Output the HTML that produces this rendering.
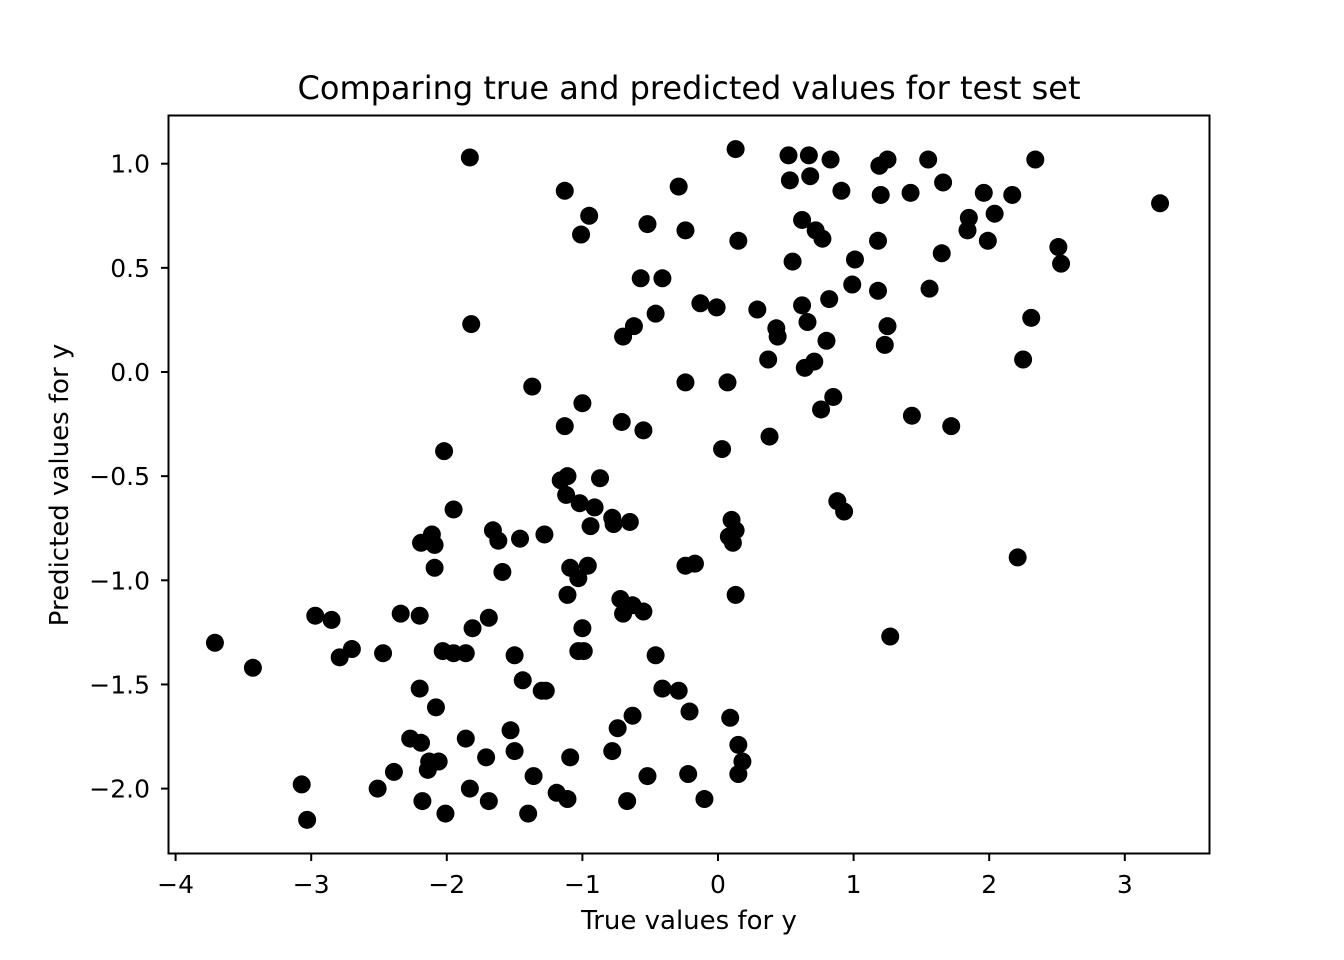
<!DOCTYPE html>
<html><head><meta charset="utf-8"><style>
html,body{margin:0;padding:0;background:#fff;}
svg{display:block;font-family:"DejaVu Sans","Liberation Sans",sans-serif;}
</style></head><body>
<svg id="chart" width="1344" height="960">
<rect x="0" y="0" width="1344" height="960" fill="#fff"/>
<text x="689" y="99" font-size="32" text-anchor="middle">Comparing true and predicted values for test set</text>
<g id="points"></g>
<g id="xticks"></g>
<g id="yticks"></g>
<rect x="168.5" y="115.5" width="1041" height="738" fill="none" stroke="#000" stroke-width="2"/>
<text x="689" y="929" font-size="26" text-anchor="middle">True values for y</text>
<text transform="translate(68,485) rotate(-90)" font-size="26" text-anchor="middle">Predicted values for y</text>
</svg>
<script>
const xTicks=[-4,-3,-2,-1,0,1,2,3];
const yTicks=[-2.0,-1.5,-1.0,-0.5,0.0,0.5,1.0];
const xVals=[-1.83,-1.13,-0.95,-1.01,-0.29,-0.52,-0.24,0.13,0.15,0.52,0.67,0.53,0.68,0.83,0.91,0.62,0.72,0.77,0.55,1.01,1.19,1.25,1.20,1.42,1.55,1.66,1.65,1.18,1.84,1.85,1.99,1.96,2.04,2.17,2.34,2.51,2.53,3.26,-0.57,-0.41,-0.13,-0.01,0.29,0.43,0.44,0.62,0.66,0.82,0.99,1.18,1.25,1.23,1.56,2.31,2.25,-0.46,-0.62,-0.70,-1.82,-1.37,-0.24,0.07,0.37,0.64,0.71,0.80,0.85,0.76,0.38,0.03,1.43,1.72,-1.00,-1.13,-0.71,-0.55,-2.02,-1.16,-1.11,-1.12,-0.87,-1.02,-0.91,-0.94,-0.78,-0.77,-0.65,-1.95,-2.11,-2.19,-2.09,-1.66,-1.62,-1.46,-1.28,-2.09,-1.59,-1.09,-1.03,-0.96,-0.24,-0.17,0.10,0.08,0.13,0.11,0.13,-1.11,-0.72,-0.63,-0.55,-0.70,2.21,0.88,0.93,1.27,-3.71,-3.43,-2.97,-2.85,-2.79,-2.70,-2.47,-2.34,-2.20,-2.03,-1.95,-1.86,-1.81,-1.69,-1.50,-1.44,-1.30,-1.27,-2.20,-2.08,-1.00,-1.03,-0.99,-0.46,-0.41,-0.29,-0.21,0.09,-1.53,-1.50,-1.09,-0.74,-0.63,-0.78,0.15,0.18,0.15,-2.27,-2.19,-2.39,-2.51,-2.13,-2.06,-2.14,-3.07,-3.03,-2.18,-2.01,-1.86,-1.83,-1.71,-1.69,-1.40,-1.36,-1.19,-1.11,-0.52,-0.22,-0.10,-0.67];
const yVals=[1.03,0.87,0.75,0.66,0.89,0.71,0.68,1.07,0.63,1.04,1.04,0.92,0.94,1.02,0.87,0.73,0.68,0.64,0.53,0.54,0.99,1.02,0.85,0.86,1.02,0.91,0.57,0.63,0.68,0.74,0.63,0.86,0.76,0.85,1.02,0.60,0.52,0.81,0.45,0.45,0.33,0.31,0.30,0.21,0.17,0.32,0.24,0.35,0.42,0.39,0.22,0.13,0.40,0.26,0.06,0.28,0.22,0.17,0.23,-0.07,-0.05,-0.05,0.06,0.02,0.05,0.15,-0.12,-0.18,-0.31,-0.37,-0.21,-0.26,-0.15,-0.26,-0.24,-0.28,-0.38,-0.52,-0.50,-0.59,-0.51,-0.63,-0.65,-0.74,-0.70,-0.73,-0.72,-0.66,-0.78,-0.82,-0.83,-0.76,-0.81,-0.80,-0.78,-0.94,-0.96,-0.94,-0.99,-0.93,-0.93,-0.92,-0.71,-0.79,-0.76,-0.82,-1.07,-1.07,-1.09,-1.12,-1.15,-1.16,-0.89,-0.62,-0.67,-1.27,-1.30,-1.42,-1.17,-1.19,-1.37,-1.33,-1.35,-1.16,-1.17,-1.34,-1.35,-1.35,-1.23,-1.18,-1.36,-1.48,-1.53,-1.53,-1.52,-1.61,-1.23,-1.34,-1.34,-1.36,-1.52,-1.53,-1.63,-1.66,-1.72,-1.82,-1.85,-1.71,-1.65,-1.82,-1.79,-1.87,-1.93,-1.76,-1.78,-1.92,-2.00,-1.87,-1.87,-1.91,-1.98,-2.15,-2.06,-2.12,-1.76,-2.00,-1.85,-2.06,-2.12,-1.94,-2.02,-2.05,-1.94,-1.93,-2.05,-2.06];
const NS="http://www.w3.org/2000/svg";
function xs(v){return 718+v*135.6;}
function ys(v){return 372-v*208.3;}
const pts=document.getElementById('points');
for(let i=0;i<xVals.length;i++){
  const c=document.createElementNS(NS,'circle');
  c.setAttribute('cx',xs(xVals[i]));c.setAttribute('cy',ys(yVals[i]));c.setAttribute('r',9);c.setAttribute('fill','#000');
  
  
  pts.appendChild(c);
}
const fmt=v=>(v<0?'\u2212':'')+Math.abs(v);
const xg=document.getElementById('xticks');
xTicks.forEach(v=>{
  const x=xs(v);
  const l=document.createElementNS(NS,'line');
  l.setAttribute('x1',x);l.setAttribute('x2',x);l.setAttribute('y1',854);l.setAttribute('y2',861);l.setAttribute('stroke','#000');l.setAttribute('stroke-width',2);
  
  
  xg.appendChild(l);
  const t=document.createElementNS(NS,'text');
  t.setAttribute('x',x);t.setAttribute('y',893);t.setAttribute('font-size',25);t.setAttribute('text-anchor','middle');
  t.textContent=fmt(v);
  
  
  xg.appendChild(t);
});
const yg=document.getElementById('yticks');
yTicks.forEach(v=>{
  const y=ys(v);
  const l=document.createElementNS(NS,'line');
  l.setAttribute('x1',161);l.setAttribute('x2',168);l.setAttribute('y1',y);l.setAttribute('y2',y);l.setAttribute('stroke','#000');l.setAttribute('stroke-width',2);
  
  
  yg.appendChild(l);
  const t=document.createElementNS(NS,'text');
  t.setAttribute('x',150);t.setAttribute('y',y+9);t.setAttribute('font-size',25);t.setAttribute('text-anchor','end');
  t.textContent=(v<0?'\u2212':'')+Math.abs(v).toFixed(1);
  
  
  yg.appendChild(t);
});
</script>
</body></html>
